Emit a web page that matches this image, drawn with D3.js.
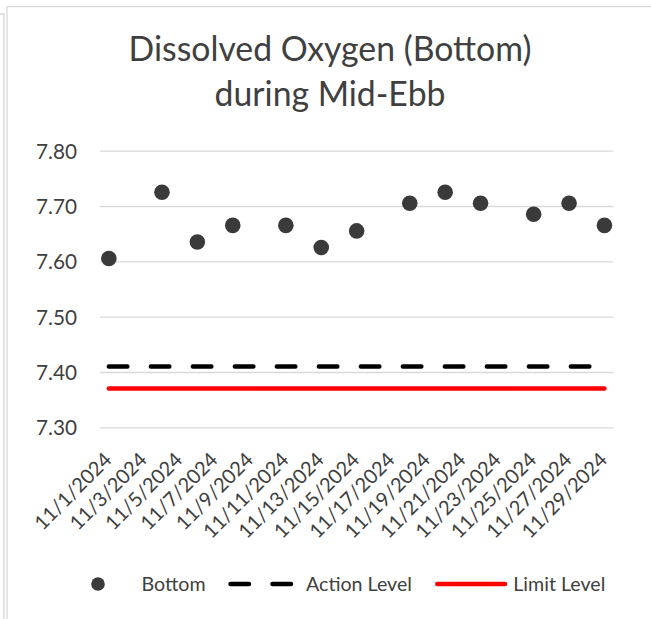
<!DOCTYPE html>
<html>
<head>
<meta charset="utf-8">
<script src="https://cdn.jsdelivr.net/npm/d3@7"></script>
<style>
  html, body { margin: 0; padding: 0; background: #fff; }
  svg { display: block; }
  text { font-family: Lato, "Open Sans", sans-serif; fill: #404040; }
</style>
</head>
<body>
<svg id="chart" width="651" height="619"></svg>
<script>
// ---- data ----
const titleLines = ["Dissolved Oxygen (Bottom)", "during Mid-Ebb"];
const sampleDates = ["2024-11-01","2024-11-04","2024-11-06","2024-11-08","2024-11-11","2024-11-13","2024-11-15","2024-11-18","2024-11-20","2024-11-22","2024-11-25","2024-11-27","2024-11-29"];
const bottomValues = [7.605, 7.725, 7.635, 7.665, 7.665, 7.625, 7.655, 7.705, 7.725, 7.705, 7.685, 7.705, 7.665];
const actionLevel = 7.41;
const limitLevel = 7.37;
const yTicks = [7.30, 7.40, 7.50, 7.60, 7.70, 7.80];
const xTickLabels = ["11/1/2024","11/3/2024","11/5/2024","11/7/2024","11/9/2024","11/11/2024","11/13/2024","11/15/2024","11/17/2024","11/19/2024","11/21/2024","11/23/2024","11/25/2024","11/27/2024","11/29/2024"];
const legendNames = ["Bottom", "Action Level", "Limit Level"];

// ---- setup ----
const svg = d3.select("#chart");
const parse = d3.timeParse("%Y-%m-%d");
const parseLabel = d3.timeParse("%m/%d/%Y");
const HALF_DAY = 12 * 3600 * 1000;
const firstDate = parse(sampleDates[0]);
const lastDate = parse(sampleDates[sampleDates.length - 1]);

const plot = { left: 100, right: 613.3, top: 150.7, bottom: 427.3 };

const x = d3.scaleTime()
  .domain([new Date(+firstDate - HALF_DAY), new Date(+lastDate + HALF_DAY)])
  .range([plot.left, plot.right]);
const y = d3.scaleLinear().domain([7.30, 7.80]).range([plot.bottom, plot.top]);

// scale font-size of a selection so that a reference node has the target width
function fitFont(sel, refNode, base, target) {
  sel.style("font-size", base + "px");
  const w = refNode.getComputedTextLength();
  const size = w > 0 ? base * target / w : base;
  sel.style("font-size", size.toFixed(2) + "px");
}

// ---- frame borders ----
const border = svg.append("g").attr("fill", "none").attr("stroke", "#d9d9d9").attr("stroke-width", 1.3);
border.append("path").attr("d", "M7,660 V6.5 H660");
border.append("path").attr("d", "M0,14 H4 V660");

// ---- title ----
const title = svg.append("text").attr("text-anchor", "middle");
const titleSpans = title.selectAll("tspan").data(titleLines).join("tspan")
  .attr("x", 330)
  .attr("y", (d, i) => 61 + i * 45)
  .text(d => d);
fitFont(title, titleSpans.node(), 33, 403);

// ---- grid + y axis ----
const yAxis = d3.axisLeft(y).tickValues(yTicks).tickFormat(d3.format(".2f"))
  .tickSize(-(plot.right - plot.left)).tickPadding(23);
const gy = svg.append("g").attr("transform", `translate(${plot.left},0)`).call(yAxis);
gy.select(".domain").remove();
gy.selectAll(".tick line").attr("stroke", "#d9d9d9").attr("stroke-width", 1.3);
const yLabels = gy.selectAll(".tick text")
  .attr("fill", "#404040")
  .style("font-family", "Lato, 'Open Sans', sans-serif")
  .attr("dy", "0.36em");
fitFont(yLabels, yLabels.node(), 20.5, 41);

// ---- x axis labels ----
const xAxis = d3.axisBottom(x)
  .tickValues(xTickLabels.map(s => parseLabel(s)))
  .tickFormat((d, i) => xTickLabels[i])
  .tickSize(0).tickPadding(0);
const gx = svg.append("g").attr("transform", `translate(0,${plot.bottom})`).call(xAxis);
gx.select(".domain").remove();
gx.selectAll(".tick text")
  .attr("fill", "#404040")
  .style("font-size", "20px")
  .style("font-family", "Lato, 'Open Sans', sans-serif")
  .attr("text-anchor", "end")
  .attr("dy", 0)
  .attr("y", 0)
  .attr("transform", "translate(3.5,33.7) rotate(-45)");

// ---- level lines ----
const levelLine = d3.line().x(d => x(d.date)).y(d => y(d.v));
const actionData = sampleDates.map(s => ({ date: parse(s), v: actionLevel }));
const limitData = sampleDates.map(s => ({ date: parse(s), v: limitLevel }));

svg.append("path").datum(limitData)
  .attr("d", levelLine)
  .attr("fill", "none").attr("stroke", "#ff0000").attr("stroke-width", 4.5)
  .attr("stroke-linecap", "round");

svg.append("path").datum(actionData)
  .attr("d", levelLine)
  .attr("fill", "none").attr("stroke", "#000").attr("stroke-width", 4.5)
  .attr("stroke-linecap", "round")
  .attr("stroke-dasharray", "18.5,23.5");

// ---- points ----
svg.append("g").selectAll("circle")
  .data(sampleDates.map((s, i) => ({ date: parse(s), v: bottomValues[i] })))
  .join("circle")
  .attr("cx", d => x(d.date))
  .attr("cy", d => y(d.v))
  .attr("r", 7.8)
  .attr("fill", "#3a3a3a");

// ---- legend ----
const lg = svg.append("g");
const ly = 584;
lg.append("circle").attr("cx", 98).attr("cy", ly).attr("r", 6.8).attr("fill", "#3a3a3a");
lg.append("line").attr("x1", 230.5).attr("x2", 291).attr("y1", ly).attr("y2", ly)
  .attr("stroke", "#000").attr("stroke-width", 4.5).attr("stroke-linecap", "round")
  .attr("stroke-dasharray", "18.5,23.5");
lg.append("line").attr("x1", 437.3).attr("x2", 505).attr("y1", ly).attr("y2", ly)
  .attr("stroke", "#ff0000").attr("stroke-width", 4.5).attr("stroke-linecap", "round");
const legendX = [141.5, 306, 513.3];
const legTexts = lg.selectAll("text.leg").data(legendNames).join("text")
  .attr("class", "leg")
  .attr("x", (d, i) => legendX[i]).attr("y", 590.7)
  .text(d => d);
fitFont(legTexts, legTexts.nodes()[1], 20, 106);
</script>
</body>
</html>
